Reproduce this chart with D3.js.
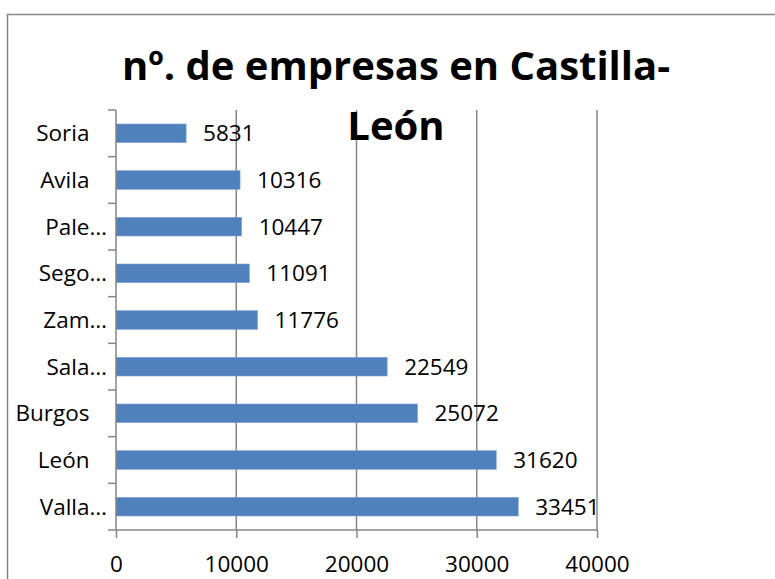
<!DOCTYPE html>
<html>
<head>
<meta charset="utf-8">
<script src="https://cdn.jsdelivr.net/npm/d3@7"></script>
<style>
  html, body { margin: 0; padding: 0; background: #fff; }
  svg { display: block; }
  text { font-family: "Open Sans", "Noto Sans", sans-serif; fill: #000; }
</style>
</head>
<body>
<svg id="chart" width="775" height="579"></svg>
<script>
// Data (top to bottom as displayed)
const categories = ["Soria\u00a0\u00a0\u00a0", "Avila\u00a0\u00a0\u00a0", "Pale…", "Sego…", "Zam…", "Sala…", "Burgos\u00a0\u00a0\u00a0", "León\u00a0\u00a0\u00a0", "Valla…"];
const values = [5831, 10316, 10447, 11091, 11776, 22549, 25072, 31620, 33451];
const xTicks = [0, 10000, 20000, 30000, 40000];
const titleLines = ["nº. de empresas en Castilla-", "León"];

const svg = d3.select("#chart");
const W = 775, H = 579;
const plot = { left: 116, right: 597, top: 110, bottom: 530 };
const gray = "#868686";
const barColor = "#4F81BD";

// Chart border
svg.append("rect")
  .attr("x", 7.5).attr("y", 14.5)
  .attr("width", W + 10).attr("height", H + 10)
  .attr("fill", "#fff").attr("stroke", gray).attr("stroke-width", 1.5);

const x = d3.scaleLinear().domain([0, 40000]).range([plot.left, plot.right]);
const y = d3.scaleBand().domain(categories).range([plot.top, plot.bottom])
  .paddingInner(0.6).paddingOuter(0.3);

// Gridlines
svg.append("g")
  .selectAll("line").data(xTicks.filter(d => d > 0)).join("line")
  .attr("x1", d => x(d)).attr("x2", d => x(d))
  .attr("y1", plot.top).attr("y2", plot.bottom)
  .attr("stroke", gray).attr("stroke-width", 1.5);

// Bars
const data = categories.map((c, i) => ({ c, v: values[i] }));
svg.append("g")
  .selectAll("rect").data(data).join("rect")
  .attr("x", x(0))
  .attr("y", d => y(d.c))
  .attr("width", d => x(d.v) - x(0))
  .attr("height", y.bandwidth())
  .attr("fill", barColor)
  .attr("stroke", "#7fa2d3").attr("stroke-width", 0.6);

// X axis
const xAxis = d3.axisBottom(x).tickValues(xTicks).tickSize(8).tickPadding(20).tickFormat(d3.format("d"));
const gx = svg.append("g").attr("transform", `translate(0,${plot.bottom})`).call(xAxis);
gx.select(".domain").attr("stroke", gray).attr("stroke-width", 1.5)
  .attr("d", `M${plot.left - 8},0H${plot.right}`);
gx.selectAll(".tick line").attr("stroke", gray).attr("stroke-width", 1.5);
gx.selectAll(".tick text")
  .style("font-family", '"Open Sans", sans-serif')
  .style("font-size", "22.5px").attr("fill", "#000")
  .attr("dy", null).attr("y", 42);

// Y axis: ticks at category boundaries
const boundaries = d3.range(categories.length + 1).map(i => plot.top + i * y.step());
svg.append("line")
  .attr("x1", plot.left).attr("x2", plot.left)
  .attr("y1", plot.top).attr("y2", plot.bottom)
  .attr("stroke", gray).attr("stroke-width", 1.5);
svg.append("g").selectAll("line").data(boundaries.slice(0, -1)).join("line")
  .attr("x1", plot.left - 8).attr("x2", plot.left)
  .attr("y1", d => d).attr("y2", d => d)
  .attr("stroke", gray).attr("stroke-width", 1.5);

// Category labels
svg.append("g").selectAll("text").data(categories).join("text")
  .attr("x", plot.left - 9)
  .attr("y", d => y(d) + y.bandwidth() / 2)
  .attr("dy", "0.36em")
  .attr("text-anchor", "end")
  .style("font-size", "22.5px")
  .style("white-space", "pre")
  .text(d => d);

// Value labels
svg.append("g").selectAll("text").data(data).join("text")
  .attr("x", d => x(d.v) + 17)
  .attr("y", d => y(d.c) + y.bandwidth() / 2)
  .attr("dy", "0.36em")
  .style("font-size", "22.5px")
  .text(d => d.v);

// Title
const title = svg.append("text")
  .attr("text-anchor", "middle")
  .style("font-size", "40px").style("font-weight", "bold");
title.selectAll("tspan").data(titleLines).join("tspan")
  .attr("x", 396)
  .attr("y", (d, i) => 80 + i * 60)
  .text(d => d);
</script>
</body>
</html>
